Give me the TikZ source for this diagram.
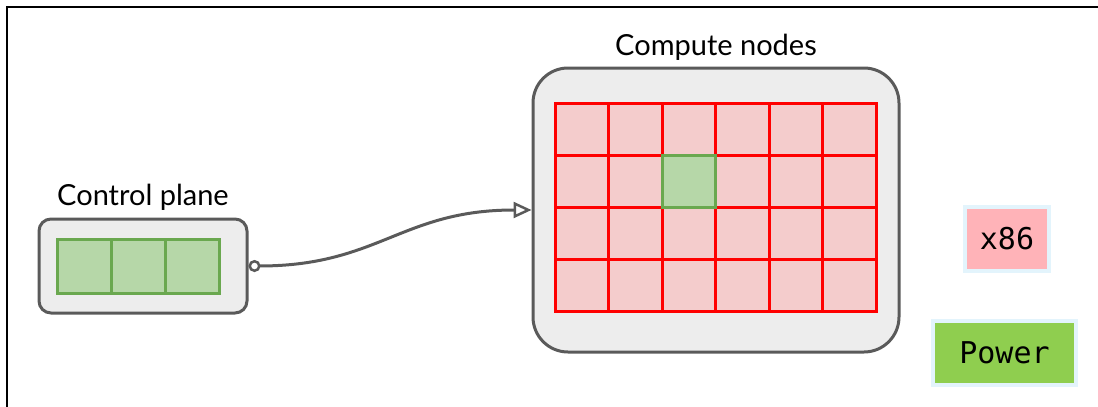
\documentclass[tikz,border=0pt]{standalone}
\usepackage{fontspec}
\setmainfont{Lato}
\newfontfamily\codefont{DejaVu Sans Mono}
\usepackage{xcolor}
\usetikzlibrary{arrows.meta, positioning}
\definecolor{boxgray}{HTML}{EDEDED}
\definecolor{edgegray}{HTML}{5A5A5A}
\definecolor{cellred}{HTML}{F4CCCC}
\definecolor{cellgreen}{HTML}{B6D7A8}
\definecolor{edgegreen}{HTML}{6AA84F}
\definecolor{tagpink}{HTML}{FFB3B8}
\definecolor{taggreen}{HTML}{8FCE4F}
\definecolor{tagblue}{HTML}{E3F4FC}
\tikzset{
  outerbox/.style={draw=edgegray, fill=boxgray, line width=3pt, inner sep=0pt},
  redcell/.style={draw=red, fill=cellred, line width=3pt, minimum width=53.5pt, minimum height=52pt, inner sep=0pt},
  greencell/.style={draw=edgegreen, fill=cellgreen, line width=3pt, minimum width=54pt, minimum height=54pt, inner sep=0pt},
  lbl/.style={inner sep=0pt, font=\fontsize{29}{34}\selectfont},
  tag/.style={draw=tagblue, line width=4pt, inner sep=0pt, font=\codefont\fontsize{30}{36}\selectfont},
  conn/.style={draw=edgegray, line width=3pt, {Circle[open, length=12pt, width=12pt, line width=2.5pt]}-{Triangle[open, length=18pt, width=16pt, line width=2.5pt]}}
}
\begin{document}
\begin{tikzpicture}[x=1pt, y=-1pt]
\useasboundingbox (0,0) rectangle (1098,407);
\draw[line width=2pt] (7,407) -- (7,7) -- (1098,7);
% control plane
\node[outerbox, rounded corners=12pt, minimum width=208pt, minimum height=94pt] (ctrl) at (143,266) {};
\foreach \c in {0,1,2} \node[greencell] (cp-\c) at (84+54*\c,266) {};
\node[lbl, above=7pt of ctrl] (ctrllbl) {Control plane};
% compute nodes
\node[outerbox, rounded corners=35pt, minimum width=366pt, minimum height=284pt] (comp) at (716,210) {};
\foreach \r in {0,...,3}
  \foreach \c in {0,...,5}
    \node[redcell] (cn-\r-\c) at (581.75+53.5*\c,129+52*\r) {};
\node[greencell, minimum width=53.5pt, minimum height=52pt] (cn-sel) at (cn-1-2) {};
\node[lbl, above=6pt of comp] (complbl) {Compute nodes};
\draw[conn] (ctrl.east) .. controls +(130,0) and +(-130,0) .. (comp.west);
% legend
\node[tag, fill=tagpink, minimum width=84pt, minimum height=64.5pt] (x86) at (1007,239) {x86};
\node[tag, fill=taggreen, minimum width=143pt, minimum height=64pt] (power) at (1004.5,352.5) {Power};
\end{tikzpicture}
\end{document}
